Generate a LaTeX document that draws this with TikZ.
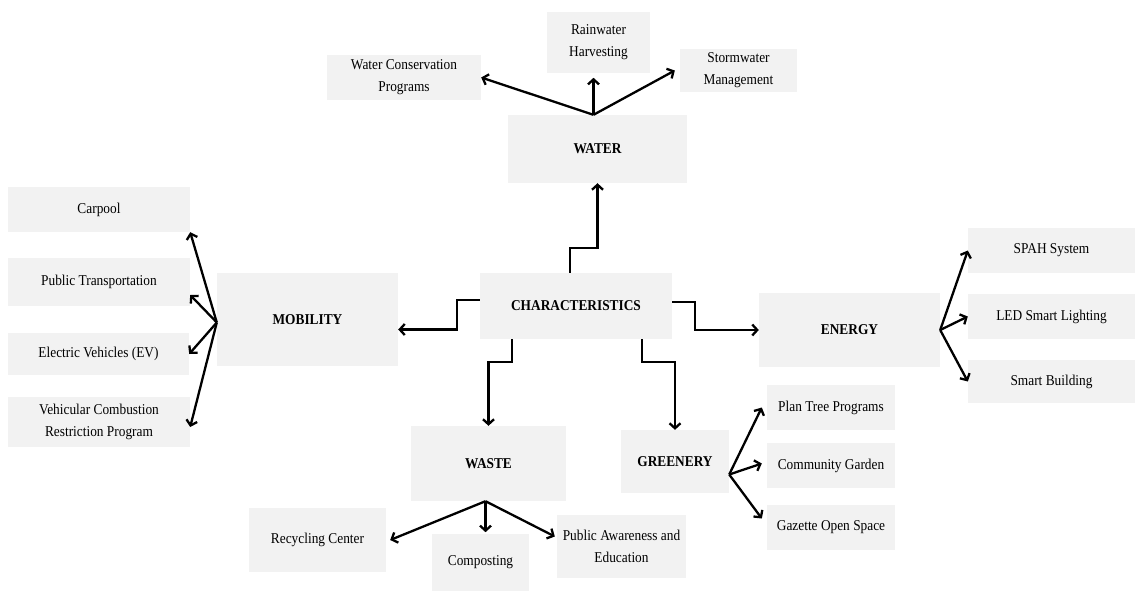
\documentclass[tikz,border=0pt]{standalone}
\usepackage{fontspec}
\setmainfont{Liberation Serif}[FakeStretch=0.89]
\usepackage{tikz}
\usetikzlibrary{arrows.meta}

\definecolor{boxgray}{HTML}{F2F2F2}
\tikzset{
  cbox/.style={fill=boxgray, inner sep=0pt, align=center,
    font=\fontsize{15}{22}\selectfont},
  mainbox/.style={cbox, font=\fontsize{15}{22}\selectfont\bfseries},
  arr/.style={line width=2.3pt, -{Straight Barb[length=5pt,width=11pt]}}
}

\begin{document}
\begin{tikzpicture}[x=1pt, y=-1pt]
      \useasboundingbox (0,0) rectangle (1135,591);

      % centre
      \node[mainbox, minimum width=192, minimum height=66] (char) at (576,306) {CHARACTERISTICS};

      % water
      \node[mainbox, minimum width=179, minimum height=68] (water) at (597.5,149) {WATER};
      \node[cbox, minimum width=154, minimum height=45] (wcp) at (404,77.5) {Water Conservation\\Programs};
      \node[cbox, minimum width=103, minimum height=61] (rain) at (598.5,42.5) {Rainwater\\Harvesting};
      \node[cbox, minimum width=117, minimum height=43] (storm) at (738.5,70.5) {Stormwater\\Management};

      % mobility
      \node[mainbox, minimum width=181, minimum height=93] (mob) at (307.5,319.5) {MOBILITY};
      \node[cbox, minimum width=182, minimum height=45] (carpool) at (99,209.5) {Carpool};
      \node[cbox, minimum width=182, minimum height=48] (public) at (99,282) {Public Transportation};
      \node[cbox, minimum width=181, minimum height=42] (ev) at (98.5,354) {Electric Vehicles (EV)};
      \node[cbox, minimum width=182, minimum height=50] (veh) at (99,422) {Vehicular Combustion\\Restriction Program};

      % energy
      \node[mainbox, minimum width=181, minimum height=74] (energy) at (849.5,330) {ENERGY};
      \node[cbox, minimum width=167, minimum height=45] (spah) at (1051.5,250.5) {SPAH System};
      \node[cbox, minimum width=167, minimum height=45] (led) at (1051.5,316.5) {LED Smart Lighting};
      \node[cbox, minimum width=167, minimum height=43] (smart) at (1051.5,381.5) {Smart Building};

      % waste
      \node[mainbox, minimum width=155, minimum height=75] (waste) at (488.5,463.5) {WASTE};
      \node[cbox, minimum width=137, minimum height=64] (rec) at (317.5,540) {Recycling Center};
      \node[cbox, minimum width=97, minimum height=57] (comp) at (480.5,562.5) {Composting};
      \node[cbox, minimum width=129, minimum height=63] (pa) at (621.5,546.5) {Public Awareness and\\Education};

      % greenery
      \node[mainbox, minimum width=108, minimum height=63] (green) at (675,461.5) {GREENERY};
      \node[cbox, minimum width=128, minimum height=45] (plan) at (831,407.5) {Plan Tree Programs};
      \node[cbox, minimum width=128, minimum height=45] (comm) at (831,465.5) {Community Garden};
      \node[cbox, minimum width=128, minimum height=45] (gaz) at (831,527.5) {Gazette Open Space};

      % centre to categories
      \draw[arr] ([xshift=-6pt]char.north) -- ++(0,-25) -| (water.south);
      \draw[arr] ([yshift=6pt]char.west) -- ++(-23,0) |- ([yshift=-10pt]mob.east);
      \draw[arr] ([yshift=4pt]char.east) -- ++(23,0) |- (energy.west);
      \draw[arr] ([xshift=-64pt]char.south) -- ++(0,23) -| (waste.north);
      \draw[arr] ([xshift=66pt]char.south) -- ++(0,23) -| (green.north);

      % water items
      \draw[arr] ([xshift=-4pt]water.north) -- (wcp.east);
      \draw[arr] ([xshift=-4pt]water.north) -- ++(0,-37);
      \draw[arr] ([xshift=-4pt]water.north) -- ([xshift=-5pt]storm.west);

      % mobility items
      \draw[arr] ([yshift=-3pt]mob.west) -- (carpool.south east);
      \draw[arr] ([yshift=-3pt]mob.west) -- ([yshift=-13pt]public.east);
      \draw[arr] ([yshift=-3pt]mob.west) -- (ev.east);
      \draw[arr] ([yshift=-3pt]mob.west) -- ([yshift=-5pt]veh.east);

      % energy items
      \draw[arr] (energy.east) -- (spah.west);
      \draw[arr] (energy.east) -- (led.west);
      \draw[arr] (energy.east) -- (smart.west);

      % waste items
      \draw[arr] ([xshift=-3pt]waste.south) -- ([xshift=4pt]rec.east);
      \draw[arr] ([xshift=-3pt]waste.south) -- ++(0,31);
      \draw[arr] ([xshift=-3pt]waste.south) -- ([xshift=-2pt,yshift=10pt]pa.west);

      % greenery items
      \draw[arr] ([yshift=-13pt]green.east) -- ([xshift=-5pt]plan.west);
      \draw[arr] ([yshift=-13pt]green.east) -- ([xshift=-5pt,yshift=2pt]comm.west);
      \draw[arr] ([yshift=-13pt]green.east) -- ([xshift=-5pt,yshift=9pt]gaz.west);

    \end{tikzpicture}
\end{document}
